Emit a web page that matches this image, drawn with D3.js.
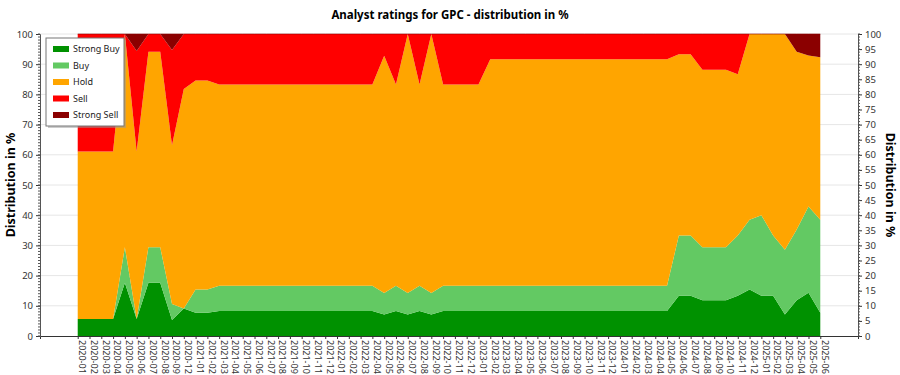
<!doctype html>
<html>
  <head>
    <script src="https://cdn.jsdelivr.net/npm/d3@7"></script>
    <style>
      body { margin: 0; background: #fff; }
      text { font-family: "Noto Sans", "Open Sans", sans-serif; }
    </style>
  </head>
  <body>
    <div id="chart"></div>
    <script>
      // month labels on the x axis (2020-10 and 2020-11 are missing in the source)
      var months = [
        "2020-01","2020-02","2020-03","2020-04","2020-05","2020-06","2020-07","2020-08","2020-09","2020-12",
        "2021-01","2021-02","2021-03","2021-04","2021-05","2021-06","2021-07","2021-08","2021-09","2021-10","2021-11","2021-12",
        "2022-01","2022-02","2022-03","2022-04","2022-05","2022-06","2022-07","2022-08","2022-09","2022-10","2022-11","2022-12",
        "2023-01","2023-02","2023-03","2023-04","2023-05","2023-06","2023-07","2023-08","2023-09","2023-10","2023-11","2023-12",
        "2024-01","2024-02","2024-03","2024-04","2024-05","2024-06","2024-07","2024-08","2024-09","2024-10","2024-11","2024-12",
        "2025-01","2025-02","2025-03","2025-04","2025-05","2025-06"
      ];

      // share of each rating in %
      var strongBuy = [
        5.6,5.6,5.6,5.6,17.6,5.6,17.6,17.6,5.3,9.1,
        7.7,7.7,8.3,8.3,8.3,8.3,8.3,8.3,8.3,8.3,8.3,8.3,
        8.3,8.3,8.3,8.3,7.1,8.3,7.1,8.3,7.1,8.3,8.3,8.3,
        8.3,8.3,8.3,8.3,8.3,8.3,8.3,8.3,8.3,8.3,8.3,8.3,
        8.3,8.3,8.3,8.3,8.3,13.3,13.3,11.8,11.8,11.8,13.3,15.4,
        13.3,13.3,7.1,11.8,14.3,7.7
      ];
      var buy = [
        0,0,0,0,11.8,0,11.8,11.8,5.3,0,
        7.7,7.7,8.3,8.3,8.3,8.3,8.3,8.3,8.3,8.3,8.3,8.3,
        8.3,8.3,8.3,8.3,7.1,8.3,7.1,8.3,7.1,8.3,8.3,8.3,
        8.3,8.3,8.3,8.3,8.3,8.3,8.3,8.3,8.3,8.3,8.3,8.3,
        8.3,8.3,8.3,8.3,8.3,20.0,20.0,17.6,17.6,17.6,20.0,23.1,
        26.7,20.0,21.5,23.5,28.6,30.8
      ];
      var hold = [
        55.5,55.5,55.5,55.5,70.6,55.5,64.7,64.7,52.6,72.7,
        69.2,69.2,66.7,66.7,66.7,66.7,66.7,66.7,66.7,66.7,66.7,66.7,
        66.7,66.7,66.7,66.7,78.6,66.7,85.8,66.7,85.8,66.7,66.7,66.7,
        66.7,75.0,75.0,75.0,75.0,75.0,75.0,75.0,75.0,75.0,75.0,75.0,
        75.0,75.0,75.0,75.0,75.0,60.0,60.0,58.8,58.8,58.8,53.4,61.5,
        60.0,66.7,71.4,58.8,50.0,53.8
      ];
      var sell = [
        38.9,38.9,38.9,38.9,0,33.3,5.9,5.9,31.5,18.2,
        15.4,15.4,16.7,16.7,16.7,16.7,16.7,16.7,16.7,16.7,16.7,16.7,
        16.7,16.7,16.7,16.7,7.2,16.7,0,16.7,0,16.7,16.7,16.7,
        16.7,8.4,8.4,8.4,8.4,8.4,8.4,8.4,8.4,8.4,8.4,8.4,
        8.4,8.4,8.4,8.4,8.4,6.7,6.7,11.8,11.8,11.8,13.3,0,
        0,0,0,0,0,0
      ];
      var strongSell = [
        0,0,0,0,0,5.6,0,0,5.3,0,
        0,0,0,0,0,0,0,0,0,0,0,0,
        0,0,0,0,0,0,0,0,0,0,0,0,
        0,0,0,0,0,0,0,0,0,0,0,0,
        0,0,0,0,0,0,0,0,0,0,0,0,
        0,0,0,5.9,7.1,7.7
      ];

      var keys = ["Strong Buy", "Buy", "Hold", "Sell", "Strong Sell"];
      var colors = ["#009100", "#63c963", "#ffa500", "#ff0000", "#8b0000"];

      var rows = months.map(function(m, i) {
        return {month: m, "Strong Buy": strongBuy[i], "Buy": buy[i], "Hold": hold[i],
                "Sell": sell[i], "Strong Sell": strongSell[i]};
      });

      var width = 900, height = 375;
      var margin = {top: 34, right: 42, bottom: 39, left: 40};
      var innerW = width - margin.left - margin.right,
          innerH = height - margin.top - margin.bottom;

      var svg = d3.select("#chart").append("svg")
        .attr("width", width)
        .attr("height", height);

      var g = svg.append("g")
        .attr("transform", "translate(" + margin.left + "," + margin.top + ")");

      var x = d3.scalePoint().domain(months).range([0, innerW]).padding(3.2);
      var y = d3.scaleLinear().domain([0, 100]).range([innerH, 0]);

      // grid lines
      g.append("g").selectAll("line")
        .data(d3.range(10, 101, 10))
        .enter().append("line")
          .attr("x1", 0).attr("x2", innerW)
          .attr("y1", function(d) { return y(d); })
          .attr("y2", function(d) { return y(d); })
          .attr("stroke", "#e6e6e6");

      // stacked areas
      var series = d3.stack().keys(keys)(rows);
      var area = d3.area()
        .x(function(d) { return x(d.data.month); })
        .y0(function(d) { return y(d[0]); })
        .y1(function(d) { return y(d[1]); });

      g.selectAll(".band")
        .data(series)
        .enter().append("path")
          .attr("class", "band")
          .attr("d", area)
          .attr("fill", function(d, i) { return colors[i]; });

      // thin line on top of the strong sell band
      g.append("path")
        .datum(series[4])
        .attr("d", d3.line()
          .x(function(d) { return x(d.data.month); })
          .y(function(d) { return y(d[1]); }))
        .attr("fill", "none")
        .attr("stroke", "#8b0000")
        .attr("stroke-opacity", 0.6);

      // x axis
      var xAxis = g.append("g")
        .attr("transform", "translate(0," + innerH + ")")
        .call(d3.axisBottom(x).tickSize(3).tickPadding(2));
      xAxis.select(".domain").attr("stroke", "#333");
      xAxis.selectAll(".tick line").attr("stroke", "#333");
      xAxis.selectAll("text")
        .attr("transform", "rotate(90)")
        .attr("text-anchor", "start")
        .attr("x", 4).attr("y", -4)
        .attr("dy", "0.35em")
        .attr("fill", "#333")
        .style("font-size", "9px");

      // minor ticks on both y axes (1% steps)
      function minor(gAxis, dir) {
        gAxis.selectAll(".minor")
          .data(d3.range(0, 101, 1))
          .enter().append("line")
            .attr("class", "minor")
            .attr("x1", 0).attr("x2", dir * 2)
            .attr("y1", function(d) { return y(d); })
            .attr("y2", function(d) { return y(d); })
            .attr("stroke", "#555");
      }

      var yLeft = g.append("g")
        .call(d3.axisLeft(y).tickValues(d3.range(0, 101, 10)).tickSize(4).tickPadding(3));
      minor(yLeft, -1);

      var yRight = g.append("g")
        .attr("transform", "translate(" + innerW + ",0)")
        .call(d3.axisRight(y).tickValues(d3.range(0, 101, 5)).tickSize(4).tickPadding(3));
      minor(yRight, 1);

      [yLeft, yRight].forEach(function(a) {
        a.select(".domain").attr("stroke", "#555");
        a.selectAll(".tick line").attr("stroke", "#333");
        a.selectAll("text").attr("fill", "#333").style("font-size", "9.5px");
      });

      // titles
      svg.append("text")
        .attr("x", width / 2).attr("y", 19)
        .attr("text-anchor", "middle")
        .style("font-size", "11.5px").style("font-weight", "bold")
        .text("Analyst ratings for GPC - distribution in %");

      svg.append("text")
        .attr("transform", "translate(15," + (margin.top + innerH / 2) + ") rotate(-90)")
        .attr("text-anchor", "middle")
        .style("font-size", "12.5px").style("font-weight", "bold")
        .text("Distribution in %");

      svg.append("text")
        .attr("transform", "translate(886," + (margin.top + innerH / 2) + ") rotate(90)")
        .attr("text-anchor", "middle")
        .style("font-size", "12.5px").style("font-weight", "bold")
        .text("Distribution in %");

      // legend
      var legend = svg.append("g").attr("transform", "translate(46,38)");
      legend.append("rect")
        .attr("x", 2).attr("y", 2).attr("width", 78).attr("height", 88)
        .attr("fill", "#999").attr("opacity", 0.5);
      legend.append("rect")
        .attr("width", 78).attr("height", 88)
        .attr("fill", "#fff").attr("stroke", "#777");
      var item = legend.selectAll(".item")
        .data(keys)
        .enter().append("g")
          .attr("class", "item")
          .attr("transform", function(d, i) { return "translate(7," + (11 + i * 16.5) + ")"; });
      item.append("rect")
        .attr("y", -3).attr("width", 16).attr("height", 6)
        .attr("fill", function(d, i) { return colors[i]; });
      item.append("text")
        .attr("x", 20).attr("dy", "0.35em")
        .attr("fill", "#222")
        .style("font-size", "9px")
        .text(function(d) { return d; });
    </script>
  </body>
</html>
